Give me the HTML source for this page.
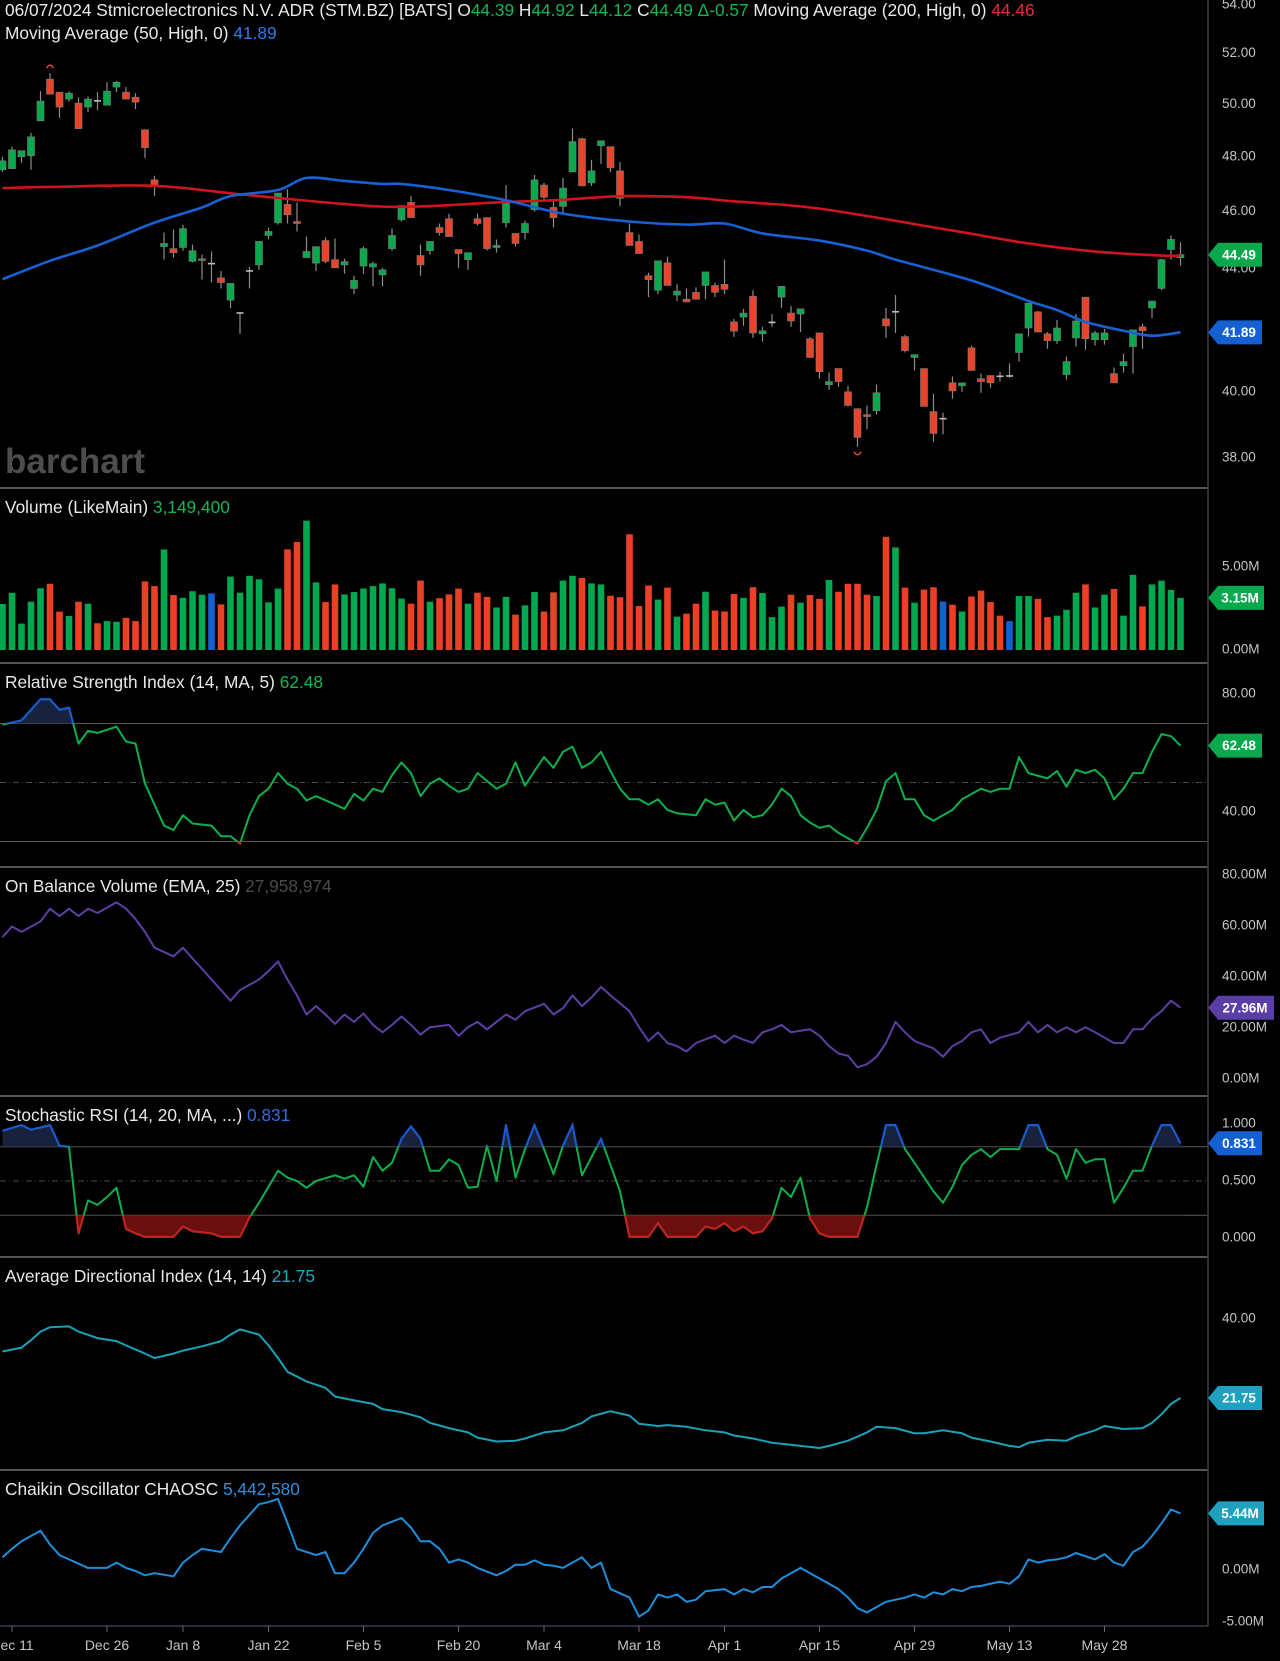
<!DOCTYPE html>
<html><head><meta charset="utf-8"><title>STM chart</title>
<style>
html,body{margin:0;padding:0;background:#000;}
svg{display:block;font-family:"Liberation Sans",sans-serif;}
.tk{font-size:13.5px;fill:#c4c4c4;dominant-baseline:middle;}
.ttl{font-size:17.3px;fill:#e8e8e8;}
.tag{font-size:13.5px;font-weight:bold;fill:#fff;text-anchor:middle;dominant-baseline:middle;}
.dt{font-size:14px;fill:#c4c4c4;text-anchor:middle;}
</style></head>
<body>
<svg id="chart" width="1280" height="1661" viewBox="0 0 1280 1661">
<rect x="0" y="0" width="1280" height="1661" fill="#000"/>
<text x="5" y="473" font-size="35" font-weight="bold" fill="#4d4d4d">barchart</text>
<g id="main"></g>
<g id="vol"></g>
<g id="rsi"></g>
<g id="obv"></g>
<g id="stoch"></g>
<g id="adx"></g>
<g id="cho"></g>
<g id="axes"></g>
<text x="5" y="16" class="ttl">06/07/2024 Stmicroelectronics N.V. ADR (STM.BZ) [BATS] <tspan fill="#e8e8e8">O</tspan><tspan fill="#16b455">44.39</tspan> <tspan>H</tspan><tspan fill="#16b455">44.92</tspan> <tspan>L</tspan><tspan fill="#16b455">44.12</tspan> <tspan>C</tspan><tspan fill="#16b455">44.49</tspan> <tspan fill="#16b455">Δ-0.57</tspan> Moving Average  (200, High, 0) <tspan fill="#e0303a">44.46</tspan></text>
<text x="5" y="39" class="ttl">Moving Average  (50, High, 0) <tspan fill="#2f7ce8">41.89</tspan></text>
<text x="5" y="513" class="ttl">Volume  (LikeMain) <tspan fill="#16b455">3,149,400</tspan></text>
<text x="5" y="688" class="ttl">Relative Strength Index  (14, MA, 5) <tspan fill="#16b455">62.48</tspan></text>
<text x="5" y="892" class="ttl">On Balance Volume  (EMA, 25) <tspan fill="#4a4a4a">27,958,974</tspan></text>
<text x="5" y="1121" class="ttl">Stochastic RSI  (14, 20, MA, ...) <tspan fill="#2f6fe0">0.831</tspan></text>
<text x="5" y="1282" class="ttl">Average Directional Index  (14, 14) <tspan fill="#22a8c0">21.75</tspan></text>
<text x="5" y="1495" class="ttl">Chaikin Oscillator CHAOSC <tspan fill="#2e90e0">5,442,580</tspan></text>
<g id="tags"></g>
</svg>
<script>
// ---------- DATA ----------
const openP=[47.52,47.56,48.0,48.04,49.36,50.98,50.47,50.2,50.04,49.89,50.16,49.96,50.67,50.47,50.27,49.02,47.15,44.77,44.7,44.74,44.26,44.29,44.2,43.7,42.95,42.52,43.93,44.14,45.16,45.61,46.26,45.65,44.39,44.2,44.98,44.32,44.14,43.34,44.1,44.07,43.8,44.7,45.72,46.33,44.46,44.63,45.44,45.75,44.67,44.32,45.75,45.79,44.74,45.61,45.23,45.26,46.07,46.96,46.15,46.19,47.44,48.68,47.04,48.42,48.38,47.48,45.26,44.95,43.77,43.28,44.21,43.12,42.98,43.21,43.44,43.44,43.48,42.23,42.39,43.08,41.84,42.22,43.05,42.52,42.49,41.68,41.87,40.22,40.73,40.0,39.48,39.3,39.42,42.33,42.56,41.75,41.08,40.73,39.39,39.18,40.28,40.19,41.39,40.41,40.51,40.5,40.5,41.24,42.03,42.56,41.84,41.62,40.54,41.71,43.05,41.65,41.65,40.57,40.82,41.43,42.07,42.69,43.34,44.67,44.39];
const highP=[48.0,48.38,48.23,48.9,50.51,51.22,50.47,50.5,50.27,50.3,50.47,50.86,50.9,50.67,50.43,49.02,47.3,45.26,45.37,45.54,44.84,44.49,44.6,43.93,43.51,42.55,44.07,44.95,45.44,46.67,46.81,46.33,45.12,44.77,45.09,45.05,44.35,43.77,44.77,44.25,44.04,45.4,46.22,46.56,44.84,44.95,45.58,45.93,44.67,44.56,45.93,45.79,45.02,46.96,45.23,45.68,47.33,47.04,46.41,47.22,49.06,48.72,47.89,48.6,48.38,47.81,45.58,45.19,43.87,44.28,44.42,43.48,43.34,43.38,43.9,43.54,44.32,42.33,42.66,43.28,42.07,42.49,43.41,42.75,42.66,41.74,41.87,40.6,40.73,40.19,39.48,39.58,40.22,42.69,43.12,41.81,41.17,40.73,39.94,39.36,40.48,40.28,41.46,40.57,40.51,40.63,40.89,41.84,42.85,42.59,41.9,42.29,41.11,42.49,43.05,41.94,42.0,40.76,41.2,41.97,42.17,42.92,44.35,45.16,44.92];
const lowP=[47.44,47.56,47.78,47.52,49.36,50.39,49.47,50.1,49.06,49.7,49.77,49.96,50.47,50.2,49.81,47.96,46.56,44.32,44.39,44.63,44.23,43.64,43.54,43.34,42.69,41.84,43.34,43.97,45.02,45.54,45.58,45.3,44.39,43.93,44.2,44.04,43.84,43.15,43.84,43.41,43.41,44.63,45.65,45.79,43.77,44.49,45.16,45.12,44.04,43.97,45.51,44.63,44.56,45.44,44.77,45.02,46.0,46.44,45.44,45.93,47.44,46.93,46.93,47.74,47.44,46.19,44.81,44.53,43.05,43.15,43.44,42.92,42.89,42.98,42.98,43.05,43.15,41.74,42.1,41.71,41.59,42.07,42.69,42.07,41.9,41.08,40.41,40.06,40.16,39.55,38.33,38.85,39.3,41.71,41.87,41.24,40.67,39.55,38.48,38.7,39.79,40.0,40.67,39.97,40.13,40.32,40.44,40.95,41.75,41.9,41.36,41.52,40.38,41.43,41.33,41.46,41.49,40.28,40.6,40.57,41.36,42.36,43.28,44.32,44.12];
const closeP=[47.85,48.26,48.23,48.75,50.12,50.39,49.89,50.43,49.06,50.2,50.12,50.51,50.86,50.2,50.08,48.34,46.96,44.88,44.56,45.4,44.63,44.35,44.21,43.54,43.51,42.55,43.96,44.95,45.3,46.67,45.89,45.58,44.6,44.77,44.26,44.04,44.25,43.61,44.7,44.18,43.97,45.16,46.22,45.79,44.14,44.95,45.26,45.12,44.53,44.56,45.58,44.7,44.81,46.3,44.88,45.58,47.15,46.52,45.79,46.85,48.57,46.93,47.48,48.6,47.59,46.48,44.81,44.53,43.64,44.28,43.44,43.25,42.89,42.98,43.9,43.21,43.31,41.93,42.52,41.87,41.94,42.24,43.41,42.26,42.66,41.08,40.63,40.32,40.32,39.58,38.61,39.24,39.97,42.1,42.59,41.3,41.17,39.55,38.73,39.2,40.03,40.28,40.67,40.32,40.28,40.51,40.52,41.84,42.85,41.9,41.62,42.03,40.95,42.26,41.68,41.87,41.87,40.28,40.95,41.97,41.94,42.92,44.32,45.02,44.49];
const ma200Idx=[0,5,16,26,38,44,52,58,63,66,72,77,86,100,108,115,122,124];
const ma200Val=[46.85,46.89,46.93,46.59,46.22,46.19,46.33,46.41,46.52,46.56,46.52,46.37,46.11,45.33,44.88,44.6,44.46,44.46];
const ma50Idx=[0,5,10,16,21,24,29,32,36,40,42,47,53,59,66,72,76,80,86,91,94,102,108,111,114,118,121,124];
const ma50Val=[43.65,44.28,44.81,45.61,46.15,46.56,46.78,47.22,47.11,47.0,47.0,46.78,46.41,45.93,45.65,45.54,45.58,45.23,44.98,44.63,44.32,43.61,42.92,42.62,42.23,41.94,41.78,41.89];
const volume=[2.77,3.45,1.59,2.91,3.72,3.99,2.31,2.05,2.91,2.79,1.61,1.74,1.70,1.94,1.74,4.13,3.85,6.06,3.31,3.14,3.54,3.33,3.41,2.75,4.42,3.45,4.47,4.26,2.87,3.70,6.06,6.51,7.79,4.07,2.89,3.95,3.35,3.49,3.70,3.85,4.01,3.72,3.10,2.79,4.18,2.91,3.12,3.35,3.70,2.79,3.45,3.20,2.56,3.20,2.13,2.69,3.49,2.32,3.47,4.18,4.47,4.34,4.01,3.95,3.27,3.18,6.97,2.65,3.89,3.04,3.76,2.01,2.19,2.79,3.51,2.38,2.32,3.37,3.14,3.78,3.43,1.98,2.61,3.33,2.85,3.31,3.08,4.22,3.51,3.99,3.99,3.33,3.25,6.82,6.18,3.76,2.85,3.64,3.78,2.92,2.73,2.32,3.22,3.58,2.89,2.07,1.74,3.25,3.25,3.08,1.98,2.07,2.42,3.45,3.95,2.56,3.33,3.68,2.07,4.53,2.63,3.95,4.18,3.62,3.14];
const volColor=("gggggrrgrgrggrrrrgrgggbrggggggrrggrrgggggggrrgrrrgrrggrggrrgg"+"rgg"+"rrrrrgrgrrgrrrgrgggrgrrgrrrrgrgrgrrbrgrrrrbggrrgggrggrggrgggg").split("");
const rsiIdx=[0,2,4,5,6,7,8,9,10,12,13,14,15,17,18,19,20,22,23,24,25,26,27,28,29,30,31,32,33,35,36,37,38,39,40,41,42,43,44,45,46,47,48,49,50,52,53,54,55,56,57,58,59,60,61,62,63,64,65,66,67,68,69,70,71,73,74,75,76,77,78,79,80,81,82,83,84,85,86,87,88,90,91,92,93,94,95,96,97,98,100,101,102,103,104,105,106,107,108,110,111,112,113,114,115,116,117,118,119,120,121,122,123,124];
const rsiVal=[69.6,71.1,78.2,78.2,74.6,75.4,63.2,67.5,66.8,68.9,63.9,63.2,49.6,35.4,33.9,38.9,36.1,35.4,31.8,31.8,29.3,38.9,45.4,47.9,53.2,49.6,47.9,43.9,45.4,42.5,41.1,46.1,43.9,47.9,46.8,52.5,56.8,53.2,45.4,49.6,51.4,48.9,46.8,47.9,53.2,47.9,49.6,56.8,48.9,53.9,58.6,55.0,60.4,62.1,55.0,56.8,60.4,53.9,47.9,44.3,44.3,42.5,44.3,40.7,39.6,38.9,44.3,42.5,43.2,37.1,40.7,38.2,38.9,42.5,47.9,45.4,38.9,36.4,34.6,35.4,32.9,29.3,34.6,40.7,50.4,53.2,44.3,44.3,38.9,37.1,40.7,44.3,46.1,47.9,46.8,47.9,47.9,58.6,53.2,51.4,53.9,48.6,54.3,53.2,54.3,51.4,44.3,47.9,53.2,53.2,60.4,66.4,65.7,62.48];
const obvIdx=[0,1,2,4,5,6,7,8,9,10,12,13,14,15,16,18,19,20,21,22,23,24,25,27,28,29,30,31,32,33,34,35,36,37,38,39,40,41,42,43,44,45,47,48,49,50,51,52,53,54,55,57,58,59,60,61,62,63,64,66,67,68,69,70,71,72,73,75,76,77,78,79,80,81,82,83,85,86,87,88,89,90,91,92,93,94,95,96,98,99,100,101,102,103,104,105,107,108,109,110,111,112,113,114,115,117,118,119,120,121,122,123,124];
const obvVal=[55.6,59.8,57.7,61.8,66.8,63.9,66.8,63.9,66.8,65.1,69.3,66.8,62.7,57.7,51.5,48.1,51.5,47.3,43.2,39.0,34.9,30.7,34.9,39.0,42.3,46.1,39.0,32.8,25.3,28.6,25.3,21.6,25.3,22.4,25.7,21.2,18.3,21.2,24.5,21.2,17.4,20.3,21.2,17.0,20.3,22.4,19.5,22.4,25.3,23.2,26.6,29.5,25.3,27.8,32.8,28.6,32.0,36.1,32.8,26.6,20.3,14.9,18.3,14.1,12.9,10.8,14.1,17.0,14.1,17.0,15.4,14.1,18.3,19.5,21.2,18.3,19.5,17.0,12.9,10.0,9.1,4.6,5.8,8.7,14.1,22.4,18.3,14.9,12.0,8.7,12.9,14.9,18.3,19.5,14.1,16.2,18.3,22.4,18.3,21.2,18.3,20.3,18.3,20.3,18.3,14.1,14.1,19.5,19.5,23.7,26.6,30.7,27.96];
const stochIdx=[0,2,3,5,6,7,8,9,10,11,12,13,14,15,18,19,20,22,23,25,26,27,28,29,30,31,32,33,35,36,37,38,39,40,41,42,43,44,45,46,47,48,49,50,51,52,53,54,55,56,57,58,59,60,61,62,63,64,65,66,67,68,69,70,71,73,74,75,76,77,78,79,80,81,82,83,84,85,86,87,89,90,91,92,93,94,95,96,98,99,100,101,102,103,104,105,107,108,109,110,111,112,113,114,115,116,117,118,119,120,121,122,123,124];
const stochVal=[0.94,0.99,0.95,0.99,0.81,0.80,0.04,0.33,0.29,0.36,0.44,0.08,0.04,0.01,0.01,0.10,0.06,0.04,0.01,0.01,0.18,0.31,0.45,0.59,0.53,0.50,0.44,0.50,0.55,0.52,0.55,0.45,0.71,0.59,0.66,0.87,0.98,0.87,0.59,0.59,0.69,0.64,0.44,0.45,0.81,0.50,0.99,0.53,0.78,0.99,0.78,0.56,0.81,0.99,0.55,0.71,0.87,0.64,0.41,0.01,0.01,0.01,0.13,0.01,0.01,0.01,0.10,0.08,0.13,0.06,0.10,0.04,0.06,0.17,0.44,0.36,0.53,0.17,0.04,0.01,0.01,0.01,0.27,0.64,0.99,0.99,0.78,0.66,0.41,0.31,0.45,0.64,0.73,0.78,0.71,0.78,0.78,0.99,0.99,0.78,0.73,0.52,0.78,0.66,0.69,0.69,0.31,0.44,0.59,0.59,0.81,0.99,0.99,0.831];
const adxIdx=[0,2,3,4,5,7,8,10,12,13,15,16,18,19,21,23,24,25,27,28,29,30,32,34,35,37,39,40,42,44,45,47,49,50,52,54,55,57,59,61,62,64,66,67,69,70,72,74,76,77,79,81,82,84,86,87,89,91,92,94,96,97,99,101,102,104,106,107,108,110,112,113,115,116,118,120,121,122,123,124];
const adxVal=[32.5,33.4,35.1,37.1,38.1,38.3,37.1,35.6,34.9,33.9,32.0,31.0,32.0,32.7,33.7,34.9,36.4,37.6,36.4,33.9,31.0,27.8,25.6,24.1,22.1,21.2,20.4,19.2,18.5,17.3,16.0,14.8,13.8,12.6,11.7,11.9,12.4,13.8,14.3,16.0,17.5,18.7,17.7,15.8,15.3,15.5,15.1,14.3,13.8,13.1,12.4,11.4,11.2,10.7,10.2,10.7,11.9,13.8,15.1,14.8,13.6,13.6,14.3,13.6,12.6,11.7,10.7,10.4,11.4,12.1,11.9,12.9,14.3,15.3,14.6,14.8,16.0,18.0,20.4,21.75];
const choIdx=[0,1,2,4,5,6,7,9,10,11,12,13,14,15,16,18,19,20,21,23,24,25,26,27,28,29,30,31,33,34,35,36,37,38,39,40,42,43,44,45,46,47,48,49,50,52,53,54,55,56,57,58,59,61,62,63,64,66,67,68,69,70,71,72,73,74,76,77,78,79,80,81,82,83,84,86,87,88,89,90,91,92,93,95,96,97,98,99,100,101,102,103,105,106,107,108,109,110,111,112,113,115,116,117,118,119,120,121,122,123,124];
const choVal=[1.22,2.04,2.76,3.78,2.45,1.43,1.02,0.20,0.20,0.20,0.71,0.20,-0.10,-0.51,-0.31,-0.61,0.71,1.43,2.04,1.73,3.06,4.29,5.31,6.33,6.53,6.84,4.49,2.04,1.43,1.73,-0.31,-0.31,0.71,2.04,3.57,4.29,5.0,4.08,2.76,2.76,2.04,0.71,1.02,0.71,0.20,-0.51,-0.10,0.51,0.51,0.92,0.51,0.41,0.20,1.22,0.20,0.71,-1.84,-2.65,-4.49,-3.88,-2.35,-2.65,-2.35,-3.06,-2.86,-2.04,-1.84,-2.35,-1.84,-2.14,-1.63,-1.63,-0.82,-0.31,0.20,-0.82,-1.33,-1.84,-2.65,-3.67,-4.08,-3.57,-3.06,-2.65,-2.35,-2.65,-2.14,-2.35,-1.84,-2.04,-1.63,-1.53,-1.12,-1.33,-0.61,1.02,0.71,0.92,1.02,1.22,1.63,1.02,1.53,0.71,0.41,1.73,2.24,3.27,4.49,5.82,5.44];
const priceTicks=[54,52,50,48,46,44,42,40,38];
const dateLabels=["Dec 11","Dec 26","Jan 8","Jan 22","Feb 5","Feb 20","Mar 4","Mar 18","Apr 1","Apr 15","Apr 29","May 13","May 28"];
const dateIdx=[1,11,19,28,38,48,57,67,76,86,96,106,116];

// ---------- SCALES ----------
const NS="http://www.w3.org/2000/svg";
const X0=2.5, STEP=9.5;
function xOf(i){return X0+STEP*i;}
function yP(p){return 5+(Math.log(54)-Math.log(p))*1289;}
function yV(v){return 650-v*16.6;}
function yR(v){return 694+(80-v)*2.95;}
function yO(v){return 1079-v*2.55;}
function yS(v){return 1238-v*114;}
function yA(v){return 1319+(40-v)*4.33;}
function yC(v){return 1570-v*10.4;}
function mk(tag,parent){const e=document.createElementNS(NS,tag);parent.appendChild(e);return e;}
function pts(idx,vals,yf){return idx.map((i,k)=>[xOf(i),yf(vals[k])]);}
function smoothPath(p){let d="M"+p[0][0]+","+p[0][1];for(let k=0;k<p.length-1;k++){const p0=p[Math.max(0,k-1)],p1=p[k],p2=p[k+1],p3=p[Math.min(p.length-1,k+2)];const c1x=p1[0]+(p2[0]-p0[0])/6,c1y=p1[1]+(p2[1]-p0[1])/6,c2x=p2[0]-(p3[0]-p1[0])/6,c2y=p2[1]-(p3[1]-p1[1])/6;d+=" C"+c1x+","+c1y+" "+c2x+","+c2y+" "+p2[0]+","+p2[1];}return d;}
function linePath(p){return "M"+p.map(q=>q[0].toFixed(1)+","+q[1].toFixed(1)).join(" L");}

const main=document.getElementById("main");
for(let i=0;i<openP.length;i++){
  const x=xOf(i);const o=openP[i],c=closeP[i];
  const doji=Math.abs(c-o)<0.04;
  const col=doji?"#bdbdbd":(c>o?"#0aa84c":"#e8432b");
  const w=mk("line",main);
  
  
  w.setAttribute("x1",x);w.setAttribute("x2",x);w.setAttribute("y1",yP(highP[i]));w.setAttribute("y2",yP(lowP[i]));
  w.setAttribute("stroke","#8c8c8c");w.setAttribute("stroke-width","1.2");
  const top=yP(Math.max(o,c)),bot=yP(Math.min(o,c));
  const b=mk("rect",main);
  
  
  b.setAttribute("x",x-3.5);b.setAttribute("width",7);b.setAttribute("y",top);b.setAttribute("height",Math.max(1.6,bot-top));
  b.setAttribute("fill",col);b.setAttribute("stroke",doji?"none":"#7d7d7d");b.setAttribute("stroke-width","0.6");
}
const hiM=mk("path",main);


{const x=xOf(5),y=yP(highP[5])-7;hiM.setAttribute("d",`M${x-3.5},${y+2} Q${x},${y-4} ${x+3.5},${y+2}`);}
hiM.setAttribute("stroke","#e8432b");hiM.setAttribute("fill","none");hiM.setAttribute("stroke-width","1.5");
const loM=mk("path",main);


{const x=xOf(90),y=yP(lowP[90])+7;loM.setAttribute("d",`M${x-3.5},${y-2} Q${x},${y+4} ${x+3.5},${y-2}`);}
loM.setAttribute("stroke","#e8432b");loM.setAttribute("fill","none");loM.setAttribute("stroke-width","1.5");
const m200=mk("path",main);


m200.setAttribute("d",smoothPath(pts(ma200Idx,ma200Val,yP)));m200.setAttribute("stroke","#d0141e");m200.setAttribute("stroke-width","2.6");m200.setAttribute("fill","none");
const m50=mk("path",main);


m50.setAttribute("d",smoothPath(pts(ma50Idx,ma50Val,yP)));m50.setAttribute("stroke","#1662d4");m50.setAttribute("stroke-width","2.6");m50.setAttribute("fill","none");

const vol=document.getElementById("vol");
const vcol={g:"#00a84f",r:"#ea4126",b:"#1460d0"};
for(let i=0;i<volume.length;i++){
  const r=mk("rect",vol);
  
  
  const y=yV(volume[i]);
  r.setAttribute("x",xOf(i)-3.3);r.setAttribute("width",6.6);r.setAttribute("y",y);r.setAttribute("height",650-y);
  r.setAttribute("fill",vcol[volColor[i]]||"#00a84f");
}

let clipN=0;
function osc(parent,idx,vals,yf,hi,lo,name){
  const P=pts(idx,vals,yf);const d=linePath(P);
  const hy=yf(hi),ly=yf(lo);
  const id1="c"+(clipN++),id2="c"+(clipN++);
  const defs=mk("defs",parent);
  const c1=mk("clipPath",defs);c1.setAttribute("id",id1);const r1=mk("rect",c1);r1.setAttribute("x",0);r1.setAttribute("y",0);r1.setAttribute("width",1208);r1.setAttribute("height",hy);
  const c2=mk("clipPath",defs);c2.setAttribute("id",id2);const r2=mk("rect",c2);r2.setAttribute("x",0);r2.setAttribute("y",ly);r2.setAttribute("width",1208);r2.setAttribute("height",1661-ly);
  const fa=mk("path",parent);
  
  
  fa.setAttribute("d",d+` L${P[P.length-1][0]},${hy} L${P[0][0]},${hy} Z`);fa.setAttribute("fill","#18223c");fa.setAttribute("clip-path",`url(#${id1})`);
  const fb=mk("path",parent);
  
  
  fb.setAttribute("d",d+` L${P[P.length-1][0]},${ly} L${P[0][0]},${ly} Z`);fb.setAttribute("fill","#6a0e0e");fb.setAttribute("clip-path",`url(#${id2})`);
  const l=mk("path",parent);
  
  
  l.setAttribute("d",d);l.setAttribute("stroke","#0db04a");l.setAttribute("stroke-width","2");l.setAttribute("fill","none");l.setAttribute("stroke-linejoin","round");
  const lb=mk("path",parent);
  
  
  lb.setAttribute("d",d);lb.setAttribute("stroke","#1c55d8");lb.setAttribute("stroke-width","2");lb.setAttribute("fill","none");lb.setAttribute("clip-path",`url(#${id1})`);
  const lr=mk("path",parent);
  
  
  lr.setAttribute("d",d);lr.setAttribute("stroke","#c81e1e");lr.setAttribute("stroke-width","2");lr.setAttribute("fill","none");lr.setAttribute("clip-path",`url(#${id2})`);
}
function hline(parent,y,dash,name,col){
  const l=mk("line",parent);
  
  
  l.setAttribute("x1",0);l.setAttribute("x2",1208);l.setAttribute("y1",y);l.setAttribute("y2",y);
  l.setAttribute("stroke",col||"#5a5a5a");l.setAttribute("stroke-width","1");if(dash)l.setAttribute("stroke-dasharray","6,3,1,3");
}
function simpleLine(parent,idx,vals,yf,col,name){
  const l=mk("path",parent);
  
  
  l.setAttribute("d",linePath(pts(idx,vals,yf)));l.setAttribute("stroke",col);l.setAttribute("stroke-width","2");l.setAttribute("fill","none");l.setAttribute("stroke-linejoin","round");
}
const rsiG=document.getElementById("rsi");
hline(rsiG,yR(70),false,"rsi-70-line");hline(rsiG,yR(30),false,"rsi-30-line");hline(rsiG,yR(50),true,"rsi-50-line","#4a4a4a");
osc(rsiG,rsiIdx,rsiVal,yR,70,30,"rsi");
simpleLine(document.getElementById("obv"),obvIdx,obvVal,yO,"#5d3fa3","obv-line");
const stG=document.getElementById("stoch");
hline(stG,yS(0.8),false,"stoch-80-line");hline(stG,yS(0.2),false,"stoch-20-line");hline(stG,yS(0.5),true,"stoch-50-line","#4a4a4a");
osc(stG,stochIdx,stochVal,yS,0.8,0.2,"stoch-rsi");
simpleLine(document.getElementById("adx"),adxIdx,adxVal,yA,"#1aa2b8","adx-line");
simpleLine(document.getElementById("cho"),choIdx,choVal,yC,"#1e8fdc","chaikin-line");

const ax=document.getElementById("axes");
[488,663,867,1096,1257,1470].forEach(y=>{
  const l=mk("line",ax);
  
  
  l.setAttribute("x1",0);l.setAttribute("x2",1208);l.setAttribute("y1",y);l.setAttribute("y2",y);l.setAttribute("stroke","#555");l.setAttribute("stroke-width","2");
});
const va=mk("line",ax);


va.setAttribute("x1",1208);va.setAttribute("x2",1208);va.setAttribute("y1",0);va.setAttribute("y2",1626);va.setAttribute("stroke","#3c3c4c");va.setAttribute("stroke-width","1.5");
const ha=mk("line",ax);


ha.setAttribute("x1",0);ha.setAttribute("x2",1208);ha.setAttribute("y1",1626);ha.setAttribute("y2",1626);ha.setAttribute("stroke","#3c3c4c");ha.setAttribute("stroke-width","1.5");
function tick(y,txt){
  const t=mk("text",ax);
  
  
  t.setAttribute("class","tk");t.setAttribute("x",1222);t.setAttribute("y",y);t.textContent=txt;
}
priceTicks.forEach(p=>tick(yP(p),p.toFixed(2)));
tick(yV(5),"5.00M");tick(yV(0),"0.00M");
tick(yR(80),"80.00");tick(yR(40),"40.00");
[80,60,40,20,0].forEach(v=>tick(yO(v),v.toFixed(2)+"M"));
[1,0.5,0].forEach(v=>tick(yS(v),v.toFixed(3)));
tick(yA(40),"40.00");tick(yA(20),"20.00");
tick(yC(5),"5.00M");tick(yC(0),"0.00M");tick(yC(-5),"-5.00M");
dateIdx.forEach((i,k)=>{
  const tl=mk("line",ax);
  
  
  tl.setAttribute("x1",xOf(i));tl.setAttribute("x2",xOf(i));tl.setAttribute("y1",1626);tl.setAttribute("y2",1632);tl.setAttribute("stroke","#666");
  const t=mk("text",ax);
  
  
  t.setAttribute("class","dt");t.setAttribute("x",xOf(i));t.setAttribute("y",1650);t.textContent=dateLabels[k];
});

const tg=document.getElementById("tags");
function tag(y,txt,col,name,w){
  w=w||54;
  const p=mk("path",tg);
  
  
  p.setAttribute("d",`M1208,${y} L1218,${y-12} L${1208+w},${y-12} L${1208+w},${y+12} L1218,${y+12} Z`);p.setAttribute("fill",col);
  const t=mk("text",tg);
  
  
  t.setAttribute("class","tag");t.setAttribute("x",1208+w/2+4);t.setAttribute("y",y+1);t.textContent=txt;
}
tag(yP(closeP[closeP.length-1]),"44.49","#0aa84c","last-price-tag");
tag(yP(ma50Val[ma50Val.length-1]),"41.89","#1460d0","ma50-tag");
tag(yV(volume[volume.length-1]),"3.15M","#0aa84c","volume-tag",56);
tag(yR(rsiVal[rsiVal.length-1]),"62.48","#0aa84c","rsi-tag");
tag(yO(obvVal[obvVal.length-1]),"27.96M","#5a3ea6","obv-tag",66);
tag(yS(stochVal[stochVal.length-1]),"0.831","#1460d0","stoch-rsi-tag");
tag(yA(adxVal[adxVal.length-1]),"21.75","#1fa0bf","adx-tag");
tag(yC(choVal[choVal.length-1]),"5.44M","#1fa0bf","chaikin-tag",56);
</script>
</body></html>
